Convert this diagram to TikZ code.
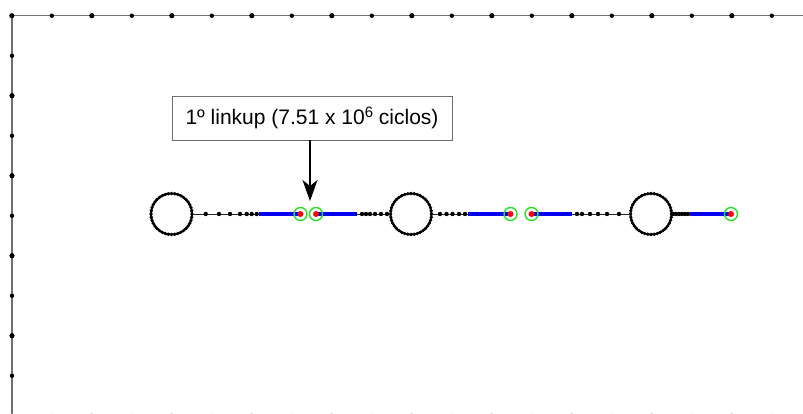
\documentclass[tikz,border=0pt]{standalone}
\usepackage{fontspec}
\setmainfont{Liberation Sans}
\usetikzlibrary{arrows.meta}
\definecolor{crackgreen}{RGB}{40,225,40}
\definecolor{axisgray}{RGB}{110,110,110}
\begin{document}
\begin{tikzpicture}[x=1pt,y=-1pt,
  frame/.style={draw=axisgray, line width=1.1pt},
  chain/.style={draw=black!85, line width=0.8pt},
  band/.style={draw=blue, line width=4pt},
  bead/.style={fill=black},
  ring/.style={circle, draw=black, line width=2pt, minimum size=41pt, inner sep=0pt},
  tipred/.style={fill=red},
  marker/.style={draw=crackgreen, line width=1.4pt},
  label box/.style={draw=axisgray, line width=0.9pt, minimum width=280pt,
    minimum height=44pt, inner sep=0pt, fill=white,
    font=\fontsize{21pt}{25pt}\selectfont}]
\useasboundingbox (0,0) rectangle (803,414);

% axes frame with tick dots
\draw[frame] (12,414.5) -- (12,15.7) -- (803,15.7);
\draw[frame, draw=axisgray!40] (12,414.8) -- (803,414.8);
\foreach \k in {0,...,19} {
  \pgfmathsetmacro{\xx}{11.8+40*\k}
  \pgfmathsetmacro{\rr}{ifthenelse(mod(\k,2)==0,2.6,2.2)}
  \fill (\xx,15.7) circle (\rr);
  \fill[black!35] (\xx,416) circle (\rr);
}
\foreach \k in {1,...,9} {
  \pgfmathsetmacro{\yy}{15.7+40*\k}
  \pgfmathsetmacro{\rr}{ifthenelse(mod(\k,2)==0,2.6,2.2)}
  \fill (12,\yy) circle (\rr);
}

% holes
\node[ring] (c1) at (171.5,214) {};
\node[ring] (c2) at (411,214) {};
\node[ring] (c3) at (651,214) {};
\foreach \c in {c1,c2,c3}
  \foreach \a in {0,9,...,351}
    \fill (\c) ++(\a:20.5) circle (1.8);

% crack tips
\coordinate (t1) at (300.5,214);
\coordinate (t2) at (316,214);
\coordinate (t3) at (510.5,214);
\coordinate (t4) at (531.5,214);
\coordinate (t5) at (731,214);

% ligaments
\draw[chain] (c1.east) -- (t1);
\draw[chain] (t2) -- (c2.west);
\draw[chain] (c2.east) -- (t3);
\draw[chain] (t4) -- (c3.west);
\draw[chain] (c3.east) -- (t5);

% mesh nodes along the ligaments
\foreach \x in {205.7,219,230,240,246.7,251.7,256.7,
                362,366,370,375,381,387,
                440,446.5,452.5,459,465,
                577,582,590,598,607,619,
                673,676,679,682,685,688}
  \fill[bead] (\x,214) circle (2.2);

% cracked segments
\draw[band] (259,214) -- (t1);
\draw[band] (t2) -- (357,214);
\draw[band] (468,214) -- (t3);
\draw[band] (t4) -- (572,214);
\draw[band] (690,214) -- (t5);
\foreach \a/\n in {261/10,319/10,470/10,534/10,692/10}
  \foreach \i in {0,...,\n} {
    \pgfmathsetmacro{\xx}{\a+3.7*\i}
    \fill[blue!70!black] (\xx,214) circle (1.1);
  }

\foreach \t in {t1,t2,t3,t4,t5} {
  \fill[tipred] (\t) circle (3);
  \draw[marker] (\t) circle (6.5);
}

% annotation
\node[label box] (lbl) at (312,118)
  {1º linkup (7.51 x 10\raisebox{7.5pt}{\fontsize{15pt}{15pt}\selectfont 6} ciclos)};
\coordinate (tip) at (310,201);
\draw[line width=1.1pt, -{Stealth[length=21pt,width=15pt,inset=6pt]}] (lbl.south -| tip) -- (tip);
\end{tikzpicture}
\end{document}
